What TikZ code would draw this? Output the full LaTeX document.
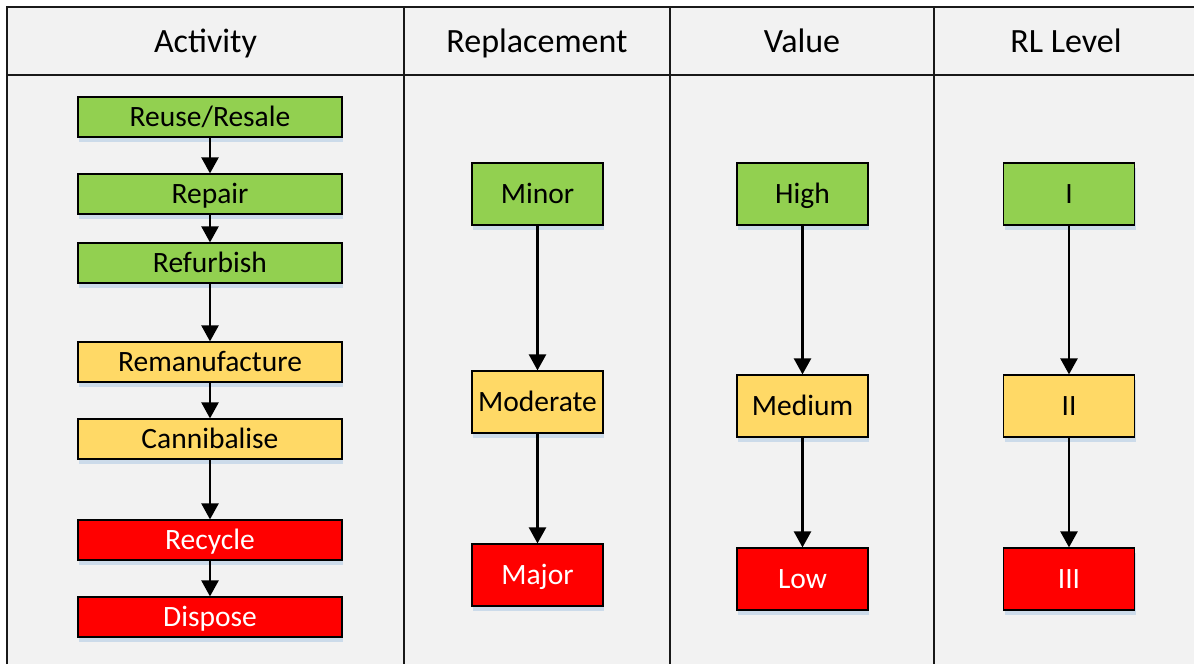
\documentclass[tikz,border=0pt]{standalone}
\usepackage{fontspec}
\setmainfont{Carlito}
\usetikzlibrary{arrows.meta,shadows}
\definecolor{panel}{HTML}{F2F2F2}
\definecolor{boxgreen}{HTML}{92D050}
\definecolor{boxyellow}{HTML}{FFD966}
\definecolor{boxred}{HTML}{FF0000}
\definecolor{shade}{HTML}{CCDBEA}
\begin{document}
\begin{tikzpicture}[x=1pt,y=-1pt,
  grid/.style={line width=1.8pt,draw=black!90},
  head/.style={font=\fontsize{34}{40}\selectfont,anchor=center,
    inner sep=0pt,text height=21.5pt,text depth=0pt},
  box/.style={draw=black,line width=1.2pt,inner sep=0pt,
    font=\fontsize{29.5}{34}\selectfont,text height=18.5pt,text depth=0pt,
    drop shadow={shadow xshift=1pt,shadow yshift=-5pt,fill=shade,opacity=1}},
  act/.style={box,minimum width=264pt,minimum height=40pt},
  lvl/.style={box,minimum width=131pt,minimum height=62pt},
  g/.style={fill=boxgreen},
  yl/.style={fill=boxyellow},
  rd/.style={fill=boxred,text=white},
  arr/.style={line width=2.4pt,-{Triangle[width=17pt,length=16pt]}}]
\useasboundingbox (0,0) rectangle (1194,664);
\fill[white] (0,0) rectangle (1194,664);
\fill[panel] (7,7) rectangle (1194,664);
% table rules
\draw[grid] (7,664) -- (7,7) -- (1194,7);
\draw[grid] (7,75) -- (1194,75);
\foreach \x in {404,670,934} \draw[grid] (\x,7) -- (\x,664);
% column headings
\node[head] (h1) at (205.5,42) {Activity};
\node[head] (h2) at (537,42) {Replacement};
\node[head] (h3) at (802,42) {Value};
\node[head] (h4) at (1066,42) {RL Level};
% activities
\node[act,g]  (a1) at (210,117) {Reuse/Resale};
\node[act,g]  (a2) at (210,194) {Repair};
\node[act,g]  (a3) at (210,263) {Refurbish};
\node[act,yl] (a4) at (210,362) {Remanufacture};
\node[act,yl] (a5) at (210,439) {Cannibalise};
\node[act,rd] (a6) at (210,540) {Recycle};
\node[act,rd] (a7) at (210,617) {Dispose};
% replacement
\node[lvl,g]  (r1) at (537.5,194) {Minor};
\node[lvl,yl] (r2) at (537.5,402) {Moderate};
\node[lvl,rd] (r3) at (537.5,575) {Major};
% value
\node[lvl,g]  (v1) at (802.5,194) {High};
\node[lvl,yl] (v2) at (802.5,406) {Medium};
\node[lvl,rd] (v3) at (802.5,579) {Low};
% RL level
\node[lvl,g]  (l1) at (1069,194) {I};
\node[lvl,yl] (l2) at (1069,406) {II};
\node[lvl,rd] (l3) at (1069,579) {III};
% connectors
\foreach \a/\b in {a1/a2,a2/a3,a3/a4,a4/a5,a5/a6,a6/a7,r1/r2,r2/r3,v1/v2,v2/v3,l1/l2,l2/l3}
  \draw[arr] (\a.south) -- (\b.north);
\end{tikzpicture}
\end{document}
